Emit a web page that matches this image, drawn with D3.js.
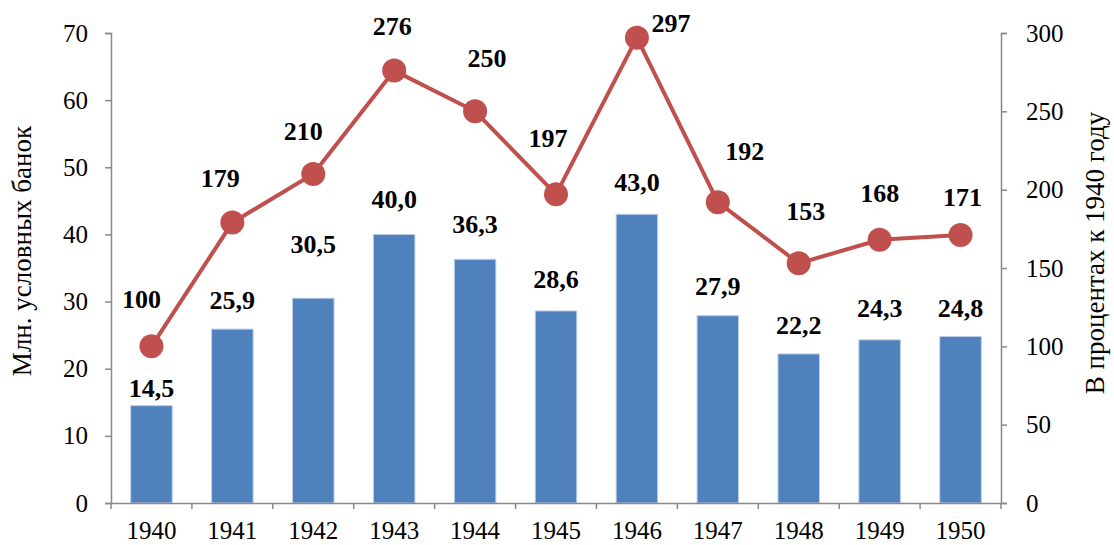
<!DOCTYPE html>
<html>
<head>
<meta charset="utf-8">
<script src="https://cdn.jsdelivr.net/npm/d3@7"></script>
<style>
	body { margin: 0; background: #fff; }
	svg text { font-family: "Liberation Serif", "Times New Roman", serif; fill: #000; }
</style>
</head>
<body>
<div id="chart"></div>
<script>
//The values
var years = ["1940","1941","1942","1943","1944","1945","1946","1947","1948","1949","1950"];
var cans = [14.5, 25.9, 30.5, 40.0, 36.3, 28.6, 43.0, 27.9, 22.2, 24.3, 24.8];
var percent = [100, 179, 210, 276, 250, 197, 297, 192, 153, 168, 171];
var leftTicks = [0, 10, 20, 30, 40, 50, 60, 70];
var rightTicks = [0, 50, 100, 150, 200, 250, 300];

//Label nudges (pixels) since the labels were moved by hand in the original
var barLabelGap = [9, 20, 45, 26, 26, 23, 23, 21, 20, 23, 19];
var lineLabelNudge = [[-10,-38],[-12,-36],[-10,-34],[-2,-36],[12,-44],[-8,-47],[34,-6],[27,-42],[7,-43],[0,-38],[2,-29]];

var serif = "'Liberation Serif', 'Times New Roman', serif";
var width = 1114, height = 545;
var margin = {top: 33, right: 113, bottom: 42, left: 111};
var plotW = width - margin.left - margin.right,
	plotH = height - margin.top - margin.bottom;

var svg = d3.select("#chart").append("svg")
	.attr("width", width)
	.attr("height", height);

var g = svg.append("g")
	.attr("transform", "translate(" + margin.left + "," + margin.top + ")");

var x = d3.scaleBand().domain(years).range([0, plotW]).paddingInner(0.487).paddingOuter(0.2435);
var xBand = d3.scaleBand().domain(years).range([0, plotW]);
var yLeft = d3.scaleLinear().domain([0, 70]).range([plotH, 0]);
var yRight = d3.scaleLinear().domain([0, 300]).range([plotH, 0]);

var axisColor = "#898989";

//Bars
g.selectAll(".bar")
	.data(cans)
	.enter().append("rect")
	.attr("class", "bar")
	.attr("x", function(d, i){ return x(years[i]); })
	.attr("y", function(d){ return yLeft(d); })
	.attr("width", x.bandwidth())
	.attr("height", function(d){ return plotH - yLeft(d); })
	.attr("fill", "#4F81BD")
	.attr("stroke", "#BCD0EA")
	.attr("stroke-width", 1);

//Axes
var leftAxis = g.append("g")
	.call(d3.axisLeft(yLeft).tickValues(leftTicks).tickSize(6).tickPadding(17).tickFormat(d3.format("d")));
var rightAxis = g.append("g")
	.attr("transform", "translate(" + plotW + ",0)")
	.call(d3.axisRight(yRight).tickValues(rightTicks).tickSize(6).tickPadding(19).tickFormat(d3.format("d")));
var bottomAxis = g.append("g")
	.attr("transform", "translate(0," + plotH + ")")
	.call(d3.axisBottom(xBand).tickSize(0).tickPadding(18));

//Category boundary ticks
g.selectAll(".xtick")
	.data(d3.range(years.length + 1))
	.enter().append("line")
	.attr("class", "xtick")
	.attr("x1", function(i){ return i * xBand.step(); })
	.attr("x2", function(i){ return i * xBand.step(); })
	.attr("y1", plotH)
	.attr("y2", plotH + 6)
	.attr("stroke", axisColor)
	.attr("stroke-width", 1.5);

[leftAxis, rightAxis, bottomAxis].forEach(function(a){
	a.attr("font-family", null).attr("font-size", null);
	a.select(".domain").attr("stroke", axisColor).attr("stroke-width", 1.5);
	a.selectAll(".tick line").attr("stroke", axisColor).attr("stroke-width", 1.5);
	a.selectAll("text").style("font-size", "25px").style("font-family", serif);
});
bottomAxis.select(".domain").attr("d", "M0,0.5H" + plotW);
bottomAxis.selectAll(".tick text").attr("dy", "0.71em");

//Line
var line = d3.line()
	.x(function(d, i){ return xBand(years[i]) + xBand.bandwidth() / 2; })
	.y(function(d){ return yRight(d); });

g.append("path")
	.datum(percent)
	.attr("fill", "none")
	.attr("stroke", "#C0504D")
	.attr("stroke-width", 4)
	.attr("d", line);

g.selectAll(".dot")
	.data(percent)
	.enter().append("circle")
	.attr("class", "dot")
	.attr("cx", function(d, i){ return xBand(years[i]) + xBand.bandwidth() / 2; })
	.attr("cy", function(d){ return yRight(d); })
	.attr("r", 12)
	.attr("fill", "#C0504D");

//Data labels
g.selectAll(".barLabel")
	.data(cans)
	.enter().append("text")
	.attr("class", "barLabel")
	.attr("x", function(d, i){ return xBand(years[i]) + xBand.bandwidth() / 2; })
	.attr("y", function(d, i){ return yLeft(d) - barLabelGap[i]; })
	.attr("text-anchor", "middle")
	.style("font-family", serif)
	.style("font-size", "26px")
	.style("font-weight", "bold")
	.text(function(d){ return d.toFixed(1).replace(".", ","); });

g.selectAll(".lineLabel")
	.data(percent)
	.enter().append("text")
	.attr("class", "lineLabel")
	.attr("x", function(d, i){ return xBand(years[i]) + xBand.bandwidth() / 2 + lineLabelNudge[i][0]; })
	.attr("y", function(d, i){ return yRight(d) + lineLabelNudge[i][1]; })
	.attr("text-anchor", "middle")
	.style("font-family", serif)
	.style("font-size", "26px")
	.style("font-weight", "bold")
	.text(function(d){ return d; });

//Axis titles
svg.append("text")
	.attr("transform", "translate(31,251) rotate(-90)")
	.attr("text-anchor", "middle")
	.style("font-family", serif)
	.style("font-size", "27px")
	.text("Млн. условных банок");

svg.append("text")
	.attr("transform", "translate(1104,253) rotate(-90)")
	.attr("text-anchor", "middle")
	.style("font-family", serif)
	.style("font-size", "27px")
	.text("В процентах к 1940 году");
</script>
</body>
</html>
